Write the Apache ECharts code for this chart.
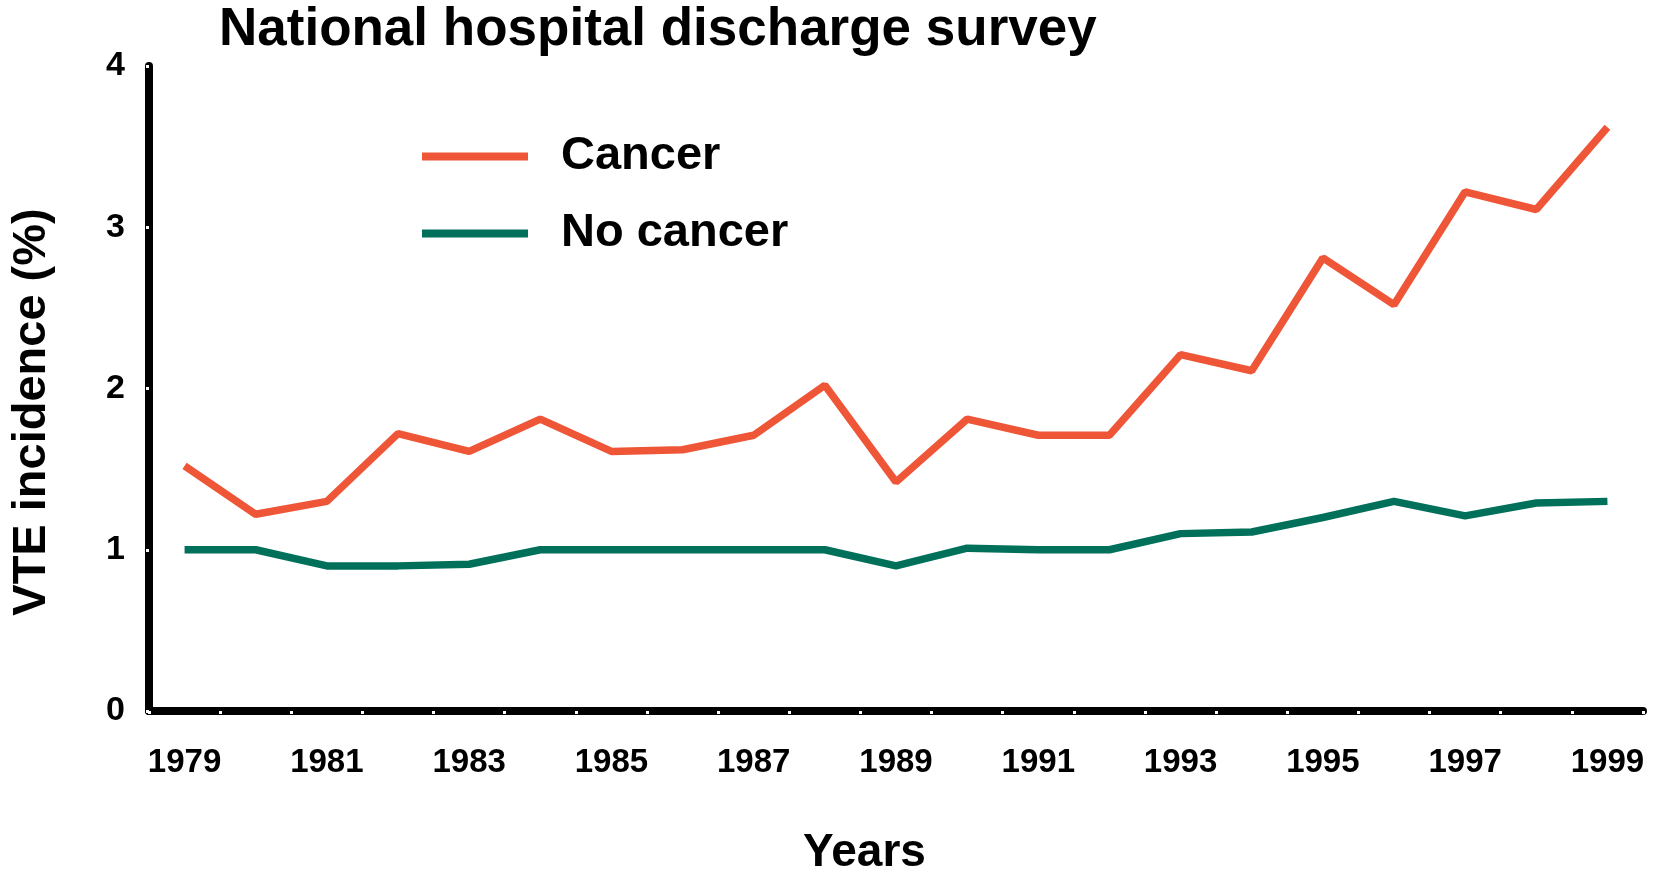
<!DOCTYPE html>
<html>
<head>
<meta charset="utf-8">
<script src="https://cdn.jsdelivr.net/npm/echarts@6/dist/echarts.min.js"></script>
<style>
html,body{margin:0;padding:0;background:#fff;overflow:hidden;}
#chart{width:1658px;height:881px;}
</style>
</head>
<body>
<div id="chart"></div>
<script>
var years = ['1979','1980','1981','1982','1983','1984','1985','1986','1987','1988','1989','1990','1991','1992','1993','1994','1995','1996','1997','1998','1999'];
var cancer = [1.52,1.22,1.3,1.72,1.61,1.81,1.61,1.62,1.71,2.02,1.42,1.81,1.71,1.71,2.21,2.11,2.81,2.52,3.22,3.11,3.62];
var noCancer = [1.0,1.0,0.9,0.9,0.91,1.0,1.0,1.0,1.0,1.0,0.9,1.01,1.0,1.0,1.1,1.11,1.2,1.3,1.21,1.29,1.3];
var yTicks = [0,1,2,3,4];

var FONT = '"Liberation Sans", Arial, sans-serif';
var el = document.getElementById('chart');
var chart = echarts.init(el);
chart.setOption({
  backgroundColor: '#fff',
  animation: false,
  title: {
    text: 'National hospital discharge survey',
    left: 219, top: 4, padding: 0,
    textStyle: {fontFamily: FONT, fontWeight: 'bold', fontSize: 53, color: '#000'}
  },
  legend: {
    orient: 'vertical',
    left: 422, top: 133, padding: 0,
    icon: 'rect',
    itemWidth: 106, itemHeight: 8,
    itemGap: 30,
    textStyle: {fontFamily: FONT, fontWeight: 'bold', fontSize: 47, color: '#000', padding: [8,0,0,28]},
    data: ['Cancer','No cancer']
  },
  grid: {left: 149, right: 15, top: 66, bottom: 162, containLabel: false},
  xAxis: {
    type: 'category',
    data: years,
    boundaryGap: true,
    name: 'Years',
    nameLocation: 'middle',
    nameGap: 119,
    nameTextStyle: {fontFamily: FONT, fontWeight: 'bold', fontSize: 46, color: '#000', padding: [0,63,0,0]},
    axisLine: {lineStyle: {color: '#000', width: 8}},
    axisTick: {show: true, interval: 0, length: 3, lineStyle: {color: '#fff', width: 3}},
    axisLabel: {interval: 1, margin: 35, fontFamily: FONT, fontWeight: 'bold', fontSize: 33, color: '#000'}
  },
  yAxis: {
    type: 'value',
    min: 0, max: 4, interval: 1,
    name: 'VTE incidence (%)',
    nameLocation: 'middle',
    nameGap: 93,
    nameRotate: 90,
    nameTextStyle: {fontFamily: FONT, fontWeight: 'bold', fontSize: 47, color: '#000', padding: [0,47,0,0]},
    axisLine: {show: true, lineStyle: {color: '#000', width: 8}},
    axisTick: {show: true, inside: false, length: 3, lineStyle: {color: '#fff', width: 3}},
    splitLine: {show: false},
    axisLabel: {margin: 24, fontFamily: FONT, fontWeight: 'bold', fontSize: 34, color: '#000',
      formatter: function(v){ return yTicks.indexOf(v) >= 0 ? String(v) : ''; }}
  },
  series: [
    {name: 'Cancer', type: 'line', data: cancer, symbol: 'none', color: '#EF5638',
     lineStyle: {width: 7.5, color: '#EF5638'}},
    {name: 'No cancer', type: 'line', data: noCancer, symbol: 'none', color: '#00705A',
     lineStyle: {width: 7.5, color: '#00705A'}}
  ]
});
</script>
</body>
</html>
